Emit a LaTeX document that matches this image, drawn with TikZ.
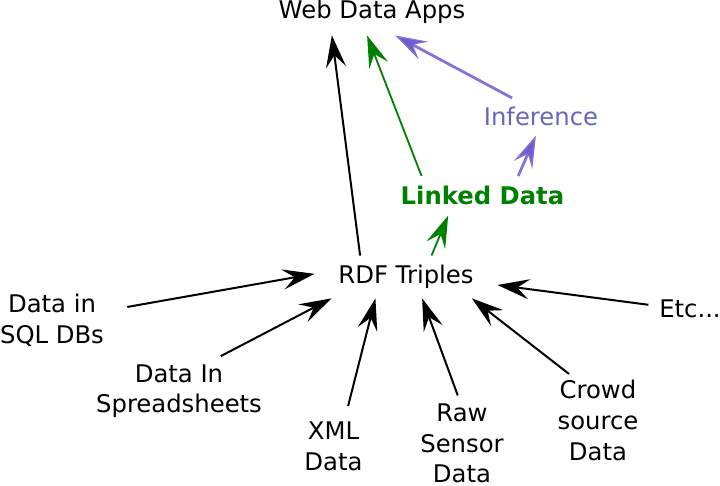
\documentclass[tikz,border=0pt]{standalone}
\usepackage{fontspec}
\setmainfont{DejaVu Sans}
\usetikzlibrary{arrows.meta}
\definecolor{infertext}{RGB}{102,102,187}
\definecolor{inferarrow}{RGB}{112,92,204}
\definecolor{linkgreen}{RGB}{0,128,0}
\begin{document}
\begin{tikzpicture}[x=0.5pt,y=-0.5pt,
    every node/.style={font=\fontsize{12.15pt}{15.3pt}\selectfont,align=center},
    arr/.style={-{Stealth[length=16pt,width=10pt,inset=6pt]},line width=1pt},
    inferpath/.style={arr,inferarrow,draw opacity=0.85,line width=1.4pt}]
    \useasboundingbox (0,0) rectangle (720,486);

    \node[inner xsep=4pt,inner ysep=5.5pt] (web) at (372,12.25) {Web Data Apps};
    \node[minimum width=91pt,minimum height=21pt,inner sep=0pt] (rdf) at (406,277) {RDF Triples};
    \node[text=linkgreen,font=\fontsize{12.15pt}{15.3pt}\selectfont\bfseries,inner sep=5pt] (linked) at (482.5,195.75) {Linked Data};
    \node[text=infertext,inner sep=4.5pt] (infer) at (541,116.75) {Inference};
    \node[inner xsep=11.5pt,inner ysep=4pt] (sql) at (52,320.25) {Data in\\SQL DBs};
    \node[inner sep=4pt] (sheets) at (179,391.2) {Data In\\Spreadsheets};
    \node[inner xsep=4pt,inner ysep=7.65pt] (xml) at (333.5,446.15) {XML\\Data};
    \node[inner sep=4pt] (raw) at (462,443.5) {Raw\\Sensor\\Data};
    \node[inner xsep=4pt,inner ysep=3pt] (crowd) at (598,420.35) {Crowd\\source\\Data};
    \node[inner xsep=5.25pt,inner ysep=4pt] (etc) at (690,309.15) {Etc...};

    \path [arr] (rdf.155) edge (web.210);
    \path [arr] (sql.10) edge (rdf.178);
    \path [arr] (sheets.40) edge (rdf.196);
    \path [arr] (xml.70) edge (rdf.215);
    \path [arr] (raw.95) edge (rdf.307);
    \path [arr] (crowd.122) edge (rdf.342);
    \path [arr] (etc.174) edge (rdf.355);

    \path [arr,linkgreen,line width=0.9pt] (rdf.40) edge (linked.210);
    \path [arr,linkgreen,line width=0.9pt] (linked.162) edge (web.258);
    \path [inferpath] (linked.29) edge (infer.255);
    \path [inferpath] (infer.147) edge (web.315);

\end{tikzpicture}
\end{document}
